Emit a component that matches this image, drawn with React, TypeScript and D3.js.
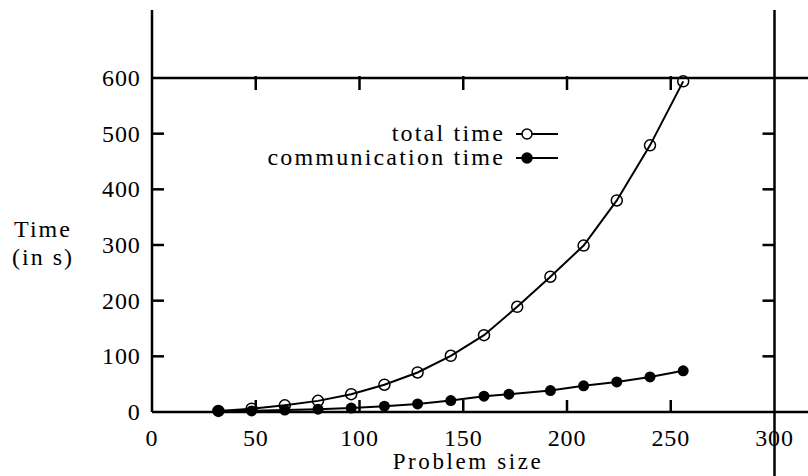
import React from 'react';
import * as d3 from 'd3';

const totalSizes = [32, 48, 64, 80, 96, 112, 128, 144, 160, 176, 192, 208, 224, 240, 256];
const totalTime = [2, 6, 12, 20, 32, 49, 71, 101, 138, 189, 243, 299, 380, 479, 594];

const commSizes = [32, 48, 64, 80, 96, 112, 128, 144, 160, 172, 192, 208, 224, 240, 256];
const commTime = [2, 2, 3.5, 5, 7, 10.5, 14.5, 20.5, 28.5, 32, 38.5, 47, 54, 63, 74];

const xTicks = [0, 50, 100, 150, 200, 250, 300];
const yTicks = [0, 100, 200, 300, 400, 500, 600];

const W = 808;
const H = 476;
const FONT = "'Liberation Serif', 'DejaVu Serif', serif";

export default function App(): React.ReactElement {
  const x = d3.scaleLinear().domain([0, 300]).range([152, 774.5]);
  const y = d3.scaleLinear().domain([0, 600]).range([412, 78]);

  const totalPts = totalSizes.map((s, i) => [s, totalTime[i]] as [number, number]);
  const commPts = commSizes.map((s, i) => [s, commTime[i]] as [number, number]);

  const line = d3.line<[number, number]>()
    .x((d) => x(d[0]))
    .y((d) => y(d[1]));

  const left = x(0);
  const right = x(300);
  const bottom = y(0);
  const top = y(600);
  const tickLen = 12;

  // legend rows
  const legend = [
    { label: 'total time', filled: false, cy: 134 },
    { label: 'communication time', filled: true, cy: 158 },
  ];

  return (
    <svg
      width={W}
      height={H}
      style={{ position: 'absolute', left: 0, top: 0, background: '#fff', fontFamily: FONT }}
    >
      {/* border lines, extended like the original */}
      <g stroke="#000" strokeWidth={2.5} fill="none">
        <line x1={left} x2={left} y1={10} y2={bottom} />
        <line x1={right} x2={right} y1={10} y2={H} />
        <line x1={left} x2={W} y1={top} y2={top} />
        <line x1={left} x2={W} y1={bottom} y2={bottom} />
      </g>

      {/* ticks */}
      <g stroke="#000" strokeWidth={2.5}>
        {yTicks.slice(1, -1).map((t) => (
          <g key={`yt${t}`}>
            <line x1={left} x2={left + tickLen} y1={y(t)} y2={y(t)} />
            <line x1={right - tickLen} x2={right} y1={y(t)} y2={y(t)} />
          </g>
        ))}
        {xTicks.slice(1, -1).map((t) => (
          <g key={`xt${t}`}>
            <line x1={x(t)} x2={x(t)} y1={bottom} y2={bottom - tickLen} />
            <line x1={x(t)} x2={x(t)} y1={top - 2} y2={top + tickLen} />
          </g>
        ))}
      </g>

      {/* tick labels */}
      <g fontFamily={FONT} fontSize={24} letterSpacing={0.8} fill="#000">
        {yTicks.map((t) => (
          <text key={`yl${t}`} x={140.5} y={y(t) + 8} textAnchor="end">
            {t}
          </text>
        ))}
        {xTicks.map((t) => (
          <text key={`xl${t}`} x={x(t)} y={446} textAnchor="middle">
            {t}
          </text>
        ))}
      </g>

      {/* axis titles */}
      <g fontFamily={FONT} fontSize={24} letterSpacing={2} fill="#000">
        <text x={43} y={237} textAnchor="middle">Time</text>
        <text x={43} y={265} textAnchor="middle">(in s)</text>
      </g>
      <text
        x={468}
        y={469}
        textAnchor="middle"
        fontFamily={FONT}
        fontSize={23}
        letterSpacing={2.6}
        fill="#000"
      >
        Problem size
      </text>

      {/* series */}
      <path d={line(totalPts) ?? ''} fill="none" stroke="#000" strokeWidth={2} />
      {totalPts.map((d, i) => (
        <circle key={`tp${i}`} cx={x(d[0])} cy={y(d[1])} r={5.5} fill="none" stroke="#000" strokeWidth={1.5} />
      ))}
      <path d={line(commPts) ?? ''} fill="none" stroke="#000" strokeWidth={2} />
      {commPts.map((d, i) => (
        <circle key={`cp${i}`} cx={x(d[0])} cy={y(d[1])} r={5.5} fill="#000" />
      ))}

      {/* legend */}
      {legend.map((l) => (
        <g key={l.label}>
          <text
            x={505}
            y={l.cy + 7}
            textAnchor="end"
            fontFamily={FONT}
            fontSize={24}
            letterSpacing={2.2}
            fill="#000"
          >
            {l.label}
          </text>
          <line x1={516} x2={558} y1={l.cy} y2={l.cy} stroke="#000" strokeWidth={2} />
          <circle
            cx={527}
            cy={l.cy}
            r={5}
            fill={l.filled ? '#000' : '#fff'}
            stroke="#000"
            strokeWidth={1.5}
          />
        </g>
      ))}
    </svg>
  );
}
